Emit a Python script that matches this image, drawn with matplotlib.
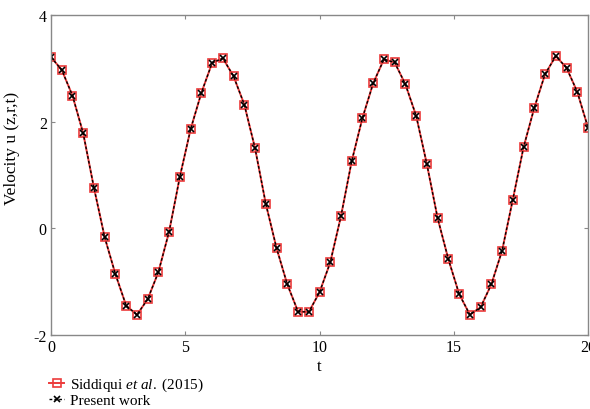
import matplotlib.pyplot as plt

plt.rcParams['font.family'] = ['Liberation Serif', 'DejaVu Serif']
plt.rcParams['mathtext.fontset'] = 'custom'
plt.rcParams['mathtext.rm'] = 'Liberation Serif'
plt.rcParams['mathtext.it'] = 'Liberation Serif:italic'
plt.rcParams['axes.unicode_minus'] = False  # plain hyphen for "-2"

# time points (markers every 0.4)
t = [0.0, 0.4, 0.8, 1.2, 1.6, 2.0, 2.4, 2.8, 3.2, 3.6,
     4.0, 4.4, 4.8, 5.2, 5.6, 6.0, 6.4, 6.8, 7.2, 7.6,
     8.0, 8.4, 8.8, 9.2, 9.6, 10.0, 10.4, 10.8, 11.2, 11.6,
     12.0, 12.4, 12.8, 13.2, 13.6, 14.0, 14.4, 14.8, 15.2, 15.6,
     16.0, 16.4, 16.8, 17.2, 17.6, 18.0, 18.4, 18.8, 19.2, 19.6, 20.0]

# Siddiqui et al. (2015)
u_siddiqui = [3.21, 2.97, 2.49, 1.78, 0.76, -0.17, -0.86, -1.45, -1.62, -1.33,
              -0.82, -0.06, 0.97, 1.86, 2.54, 3.10, 3.19, 2.85, 2.32, 1.50,
              0.46, -0.37, -1.05, -1.56, -1.57, -1.20, -0.64, 0.23, 1.26, 2.07,
              2.72, 3.17, 3.11, 2.70, 2.11, 1.20, 0.19, -0.58, -1.23, -1.62,
              -1.48, -1.05, -0.42, 0.54, 1.52, 2.26, 2.89, 3.23, 3.01, 2.56, 1.89]

# present work - sits on top of the reference curve
u_present = [3.21, 2.97, 2.49, 1.78, 0.76, -0.17, -0.86, -1.45, -1.62, -1.33,
             -0.82, -0.06, 0.97, 1.86, 2.54, 3.10, 3.19, 2.85, 2.32, 1.50,
             0.46, -0.37, -1.05, -1.56, -1.57, -1.20, -0.64, 0.23, 1.26, 2.07,
             2.72, 3.17, 3.11, 2.70, 2.11, 1.20, 0.19, -0.58, -1.23, -1.62,
             -1.48, -1.05, -0.42, 0.54, 1.52, 2.26, 2.89, 3.23, 3.01, 2.56, 1.89]

xticks = [0, 5, 10, 15, 20]
yticks = [-2, 0, 2, 4]

fig = plt.figure(figsize=(5.9, 4.1), dpi=100)
ax = fig.add_axes([51 / 590, 1 - 336 / 410, 537 / 590, 320 / 410])

red = '#ec3b3b'
ax.plot(t, u_siddiqui, color=red, lw=1.4, marker='s', ms=6, mfc='none', mec=red,
        mew=1.2, label=r'Siddiqui $\it{et\ al.}$ (2015)')
ax.plot(t, u_present, color='black', lw=1.0, ls=(0, (2, 1.5)), marker='x', ms=4.5,
        mew=1.2, label='Present work')

ax.set_xlim(0, 20)
ax.set_ylim(-2, 4)
ax.set_xticks(xticks)
ax.set_yticks(yticks)
ax.tick_params(direction='in', length=3, width=0.8, color='#888888', labelsize=11.5,
               top=True, right=True, pad=3)
for s in ax.spines.values():
    s.set_color('#888888')
    s.set_linewidth(1.0)

ax.set_xlabel('t', fontsize=12)
ax.xaxis.set_label_coords(0.499, -0.072)
ax.set_ylabel('Velocity u (z,r,t)', fontsize=12.5)
ax.yaxis.set_label_coords(-0.058, 0.585)

fig.legend(loc='upper left', bbox_to_anchor=(49 / 590, 1 - 377 / 410), frameon=False,
           fontsize=11, handlelength=1.0, handletextpad=0.35, labelspacing=0.0,
           borderpad=0.0, borderaxespad=0.0, markerscale=0.9)

plt.savefig('out.png', dpi=100)
